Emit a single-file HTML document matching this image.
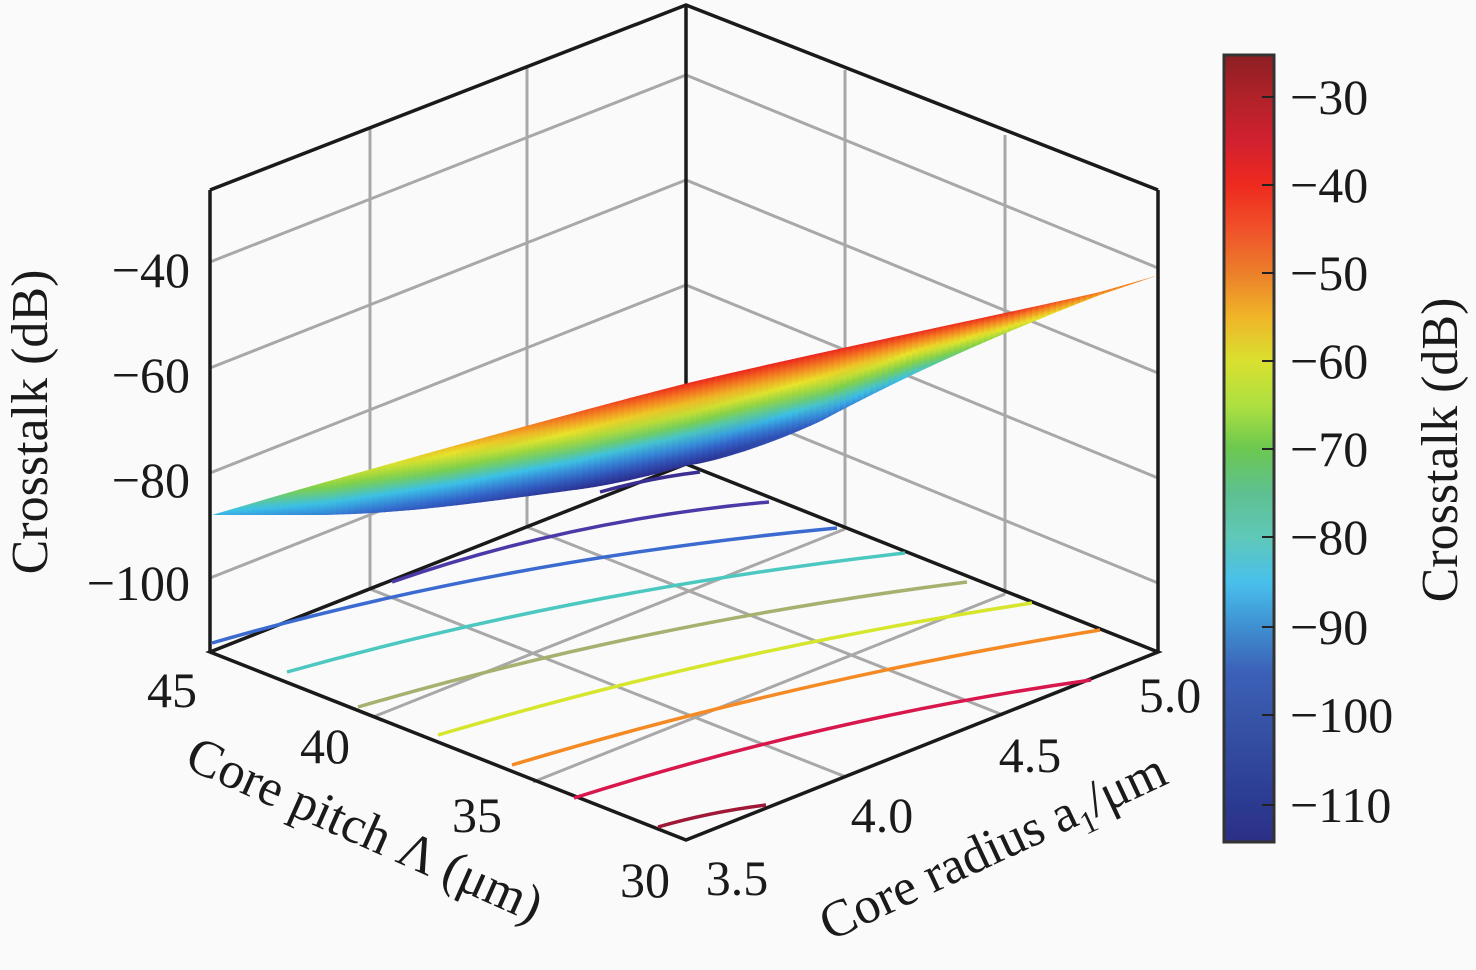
<!DOCTYPE html>
<html><head><meta charset="utf-8"><style>
html,body{margin:0;padding:0;background:#fafafa;}
svg{display:block}
text{font-family:"Liberation Serif",serif;fill:#1a1a1a}
</style></head><body>
<svg id="s" width="1476" height="970" viewBox="0 0 1476 970">
<defs>
<linearGradient id="cb" x1="0" y1="0" x2="0" y2="1">
<stop offset="0" stop-color="#8b1f23"/><stop offset=".053" stop-color="#b02228"/>
<stop offset=".11" stop-color="#d22030"/><stop offset=".165" stop-color="#ee2a1e"/>
<stop offset=".22" stop-color="#f0502a"/><stop offset=".277" stop-color="#ec7f2a"/>
<stop offset=".333" stop-color="#f0b528"/><stop offset=".389" stop-color="#d9e030"/>
<stop offset=".445" stop-color="#aee040"/><stop offset=".5" stop-color="#6cc850"/>
<stop offset=".556" stop-color="#5ec090"/><stop offset=".612" stop-color="#60c8b8"/>
<stop offset=".67" stop-color="#48c0ec"/><stop offset=".727" stop-color="#3f8fd0"/>
<stop offset=".785" stop-color="#3c60b8"/><stop offset=".84" stop-color="#3755a8"/>
<stop offset=".953" stop-color="#2b3a90"/><stop offset="1" stop-color="#2d2f86"/>
</linearGradient>
<clipPath id="surf"><path d="M212,515 C330,480 449,447 574,413 C640,395 692,382 692,382 C850,345 1009,313 1100,292 L1159,275 L1100,295 C1010,330 916,370 823,420 C760,450 700,465 689,465 C620,485 574,490 574,490 C450,507 400,513 325,515 Z"/></clipPath>
</defs>
<rect width="1476" height="970" fill="#fafafa"/>
<g stroke="#a8a8a8" stroke-width="3" fill="none">
<line x1="210" y1="262" x2="686" y2="75"/><line x1="210" y1="368" x2="686" y2="180"/>
<line x1="210" y1="473" x2="686" y2="285"/><line x1="210" y1="578" x2="686" y2="390"/>
<line x1="686" y1="75" x2="1158" y2="268"/><line x1="686" y1="180" x2="1158" y2="373"/>
<line x1="686" y1="285" x2="1158" y2="478"/><line x1="686" y1="390" x2="1158" y2="583"/>
<line x1="370" y1="128" x2="370" y2="589"/><line x1="527" y1="67" x2="527" y2="527"/>
<line x1="845" y1="70" x2="845" y2="529"/><line x1="1005" y1="135" x2="1005" y2="594"/>
<line x1="370" y1="589" x2="846" y2="777"/><line x1="527" y1="527" x2="1003" y2="715"/>
<line x1="845" y1="529" x2="373" y2="717"/><line x1="1005" y1="594" x2="533" y2="782"/>
</g>
<g stroke="#1a1a1a" stroke-width="3.5" fill="none">
<line x1="210" y1="190" x2="210" y2="652"/><line x1="686" y1="5" x2="686" y2="464"/>
<line x1="1158" y1="190" x2="1158" y2="652"/>
<polyline points="210,190 686,5 1158,190"/>
<polygon points="686,464 1158,652 686,840 210,652"/>
</g>
<g fill="none" stroke-width="3.5">
<path d="M600,492 Q650,478 700,472" stroke="#3a2f90"/>
<path d="M392,582 Q570,520 769,502" stroke="#4a3aa8"/>
<path d="M212,643 Q500,560 837,528" stroke="#3b6bd0"/>
<path d="M287,672 Q580,590 905,553" stroke="#4cc8c0"/>
<path d="M358,707 Q650,622 967,582" stroke="#a8b070"/>
<path d="M438,735 Q725,650 1032,603" stroke="#d6e62c"/>
<path d="M512,765 Q795,680 1100,630" stroke="#f58a24"/>
<path d="M574,798 Q830,717 1091,680" stroke="#d8184c"/>
<path d="M658,827 Q710,812 766,805" stroke="#a01838"/>
</g>
<g id="surfg" clip-path="url(#surf)"></g>
<g font-size="50" text-anchor="end">
<text x="190" y="287">−40</text><text x="190" y="392">−60</text>
<text x="190" y="497">−80</text><text x="190" y="600">−100</text>
</g>
<text transform="translate(47,422) rotate(-90)" font-size="52" text-anchor="middle">Crosstalk (dB)</text>
<g font-size="50" text-anchor="middle">
<text x="172" y="707">45</text><text x="325" y="763">40</text>
<text x="477" y="832">35</text><text x="645" y="897">30</text>
<text x="737" y="895">3.5</text><text x="882" y="832">4.0</text>
<text x="1030" y="772">4.5</text><text x="1170" y="712">5.0</text>
</g>
<text transform="translate(358,845) rotate(24)" font-size="52" text-anchor="middle">Core pitch Λ (μm)</text>
<text transform="translate(1000,862) rotate(-25)" font-size="52" text-anchor="middle">Core radius a<tspan font-size="32" dy="12">1</tspan><tspan dy="-12">/μm</tspan></text>
<rect x="1224" y="55" width="50" height="787" fill="url(#cb)" stroke="#333" stroke-width="3"/>
<g stroke="#222" stroke-width="2">
<line x1="1262" y1="97" x2="1274" y2="97"/><line x1="1262" y1="185" x2="1274" y2="185"/>
<line x1="1262" y1="273" x2="1274" y2="273"/><line x1="1262" y1="361" x2="1274" y2="361"/>
<line x1="1262" y1="449" x2="1274" y2="449"/><line x1="1262" y1="537" x2="1274" y2="537"/>
<line x1="1262" y1="627" x2="1274" y2="627"/><line x1="1262" y1="715" x2="1274" y2="715"/>
<line x1="1262" y1="805" x2="1274" y2="805"/>
</g>
<g font-size="50">
<text x="1290" y="114">−30</text><text x="1290" y="202">−40</text><text x="1290" y="290">−50</text>
<text x="1290" y="378">−60</text><text x="1290" y="466">−70</text><text x="1290" y="554">−80</text>
<text x="1290" y="644">−90</text><text x="1290" y="732">−100</text><text x="1290" y="822">−110</text>
</g>
<text transform="translate(1457,450) rotate(-90)" font-size="52" text-anchor="middle">Crosstalk (dB)</text>
</svg>
<script>
(function(){
var cm=[[232,20,28],[245,127,32],[233,229,42],[124,208,74],[59,192,232],[51,102,204],[43,47,143]];
function col(v){v=Math.max(0,Math.min(1,v))*(cm.length-1);var i=Math.min(Math.floor(v),cm.length-2),f=v-i;
var a=cm[i],b=cm[i+1];return 'rgb('+[0,1,2].map(function(k){return Math.round(a[k]+(b[k]-a[k])*f)}).join(',')+')';}
function interp(pts,x){for(var i=0;i<pts.length-1;i++){if(x<=pts[i+1][0]){var f=(x-pts[i][0])/(pts[i+1][0]-pts[i][0]);return pts[i][1]+(pts[i+1][1]-pts[i][1])*f;}}return pts[pts.length-1][1];}
var topY=[[212,515],[330,480],[449,447],[574,413],[692,382],[850,345],[1009,313],[1100,292],[1160,275]];
var botY=[[212,515],[325,515],[450,507],[574,490],[689,465],[823,420],[916,370],[1010,330],[1100,295],[1160,275]];
var topV=[[212,0.68],[330,0.42],[450,0.25],[575,0.1],[690,0.02],[850,0],[1010,0.04],[1100,0.12],[1160,0.18]];
var botV=[[212,0.7],[330,0.8],[450,0.92],[575,1],[690,1],[820,0.85],[920,0.62],[1010,0.42],[1100,0.25],[1160,0.18]];
var ns='http://www.w3.org/2000/svg',svg=document.getElementById('s'),defs=svg.querySelector('defs'),g=document.getElementById('surfg');
for(var x=210,n=0;x<1162;x+=6,n++){
var xc=x+3,ty=interp(topY,xc),by=interp(botY,xc),tv=interp(topV,xc),bv=interp(botV,xc);
var lg=document.createElementNS(ns,'linearGradient');lg.setAttribute('id','sg'+n);lg.setAttribute('gradientUnits','userSpaceOnUse');
lg.setAttribute('x1',0);lg.setAttribute('x2',0);lg.setAttribute('y1',ty-1);lg.setAttribute('y2',by+1);
for(var k=0;k<=8;k++){var st=document.createElementNS(ns,'stop');st.setAttribute('offset',k/8);st.setAttribute('stop-color',col(tv+(bv-tv)*k/8));lg.appendChild(st);}
defs.appendChild(lg);
var r=document.createElementNS(ns,'rect');r.setAttribute('x',x);r.setAttribute('y',250);r.setAttribute('width',7);r.setAttribute('height',300);r.setAttribute('fill','url(#sg'+n+')');g.appendChild(r);}
})();
</script>
</body></html>
